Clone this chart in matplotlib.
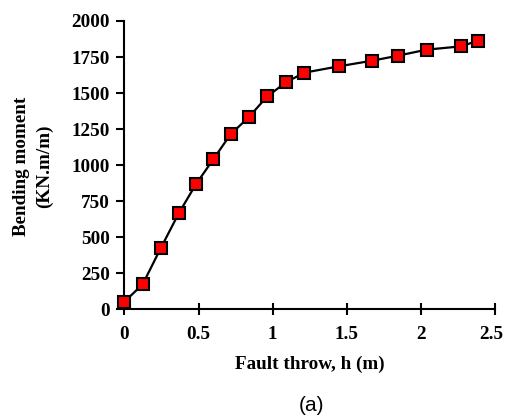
import matplotlib.pyplot as plt
from matplotlib.transforms import ScaledTranslation

# fault throw h (m) and bending moment (KN.m/m)
throw = [0.0, 0.123, 0.244, 0.366, 0.482, 0.599, 0.716, 0.838, 0.964,
         1.090, 1.213, 1.445, 1.670, 1.845, 2.039, 2.273, 2.383]
moment = [51, 172, 421, 664, 866, 1039, 1213, 1331, 1477,
          1574, 1641, 1685, 1724, 1759, 1801, 1824, 1863]

x_ticks = [0, 0.5, 1, 1.5, 2, 2.5]
x_ticklabels = ['0', '0.5', '1', '1.5', '2', '2.5']
y_ticks = [0, 250, 500, 750, 1000, 1250, 1500, 1750, 2000]

serif = 'Liberation Serif'
fs = 13.8

fig = plt.figure(figsize=(5.05, 4.15), dpi=100)
ax = fig.add_axes([0.2465, 0.2554, 0.7335, 0.694])

ax.plot(throw, moment, color='black', lw=1.6, marker='s', ms=8.4,
        mfc='#ff0000', mec='black', mew=1.5, clip_on=False, zorder=3)

ax.set_xlim(0, 2.5)
ax.set_ylim(0, 2000)
ax.set_xticks(x_ticks)
ax.set_xticklabels(x_ticklabels)
ax.set_yticks(y_ticks)

for side in ['top', 'right']:
    ax.spines[side].set_visible(False)
for side in ['left', 'bottom']:
    ax.spines[side].set_linewidth(1.5)

ax.tick_params(axis='x', direction='inout', length=9, width=1.5, pad=8)
ax.tick_params(axis='y', direction='out', length=5.5, width=1.5, pad=5)
for lab in ax.get_xticklabels() + ax.get_yticklabels():
    lab.set_fontfamily(serif)
    lab.set_fontweight('bold')
    lab.set_fontsize(fs)

# nudge the last x label so it stays inside the figure
last = ax.get_xticklabels()[-1]
last.set_transform(last.get_transform() +
                   ScaledTranslation(-4 / 100, 0, fig.dpi_scale_trans))

ax.set_xlabel('Fault throw, h (m)', family=serif, fontweight='bold',
              fontsize=fs, labelpad=9)
fig.text(33 / 505, 1 - 166 / 415, 'Bending moment\n(KN.m/m)', rotation=90,
         family=serif, fontweight='bold', fontsize=fs, ha='center',
         va='center', multialignment='center', linespacing=1.38)

fig.text(311 / 505, 1 - 405 / 415, '(a)', family='Liberation Sans',
         fontsize=15, ha='center', va='center')

fig.savefig('out.png', dpi=100)
